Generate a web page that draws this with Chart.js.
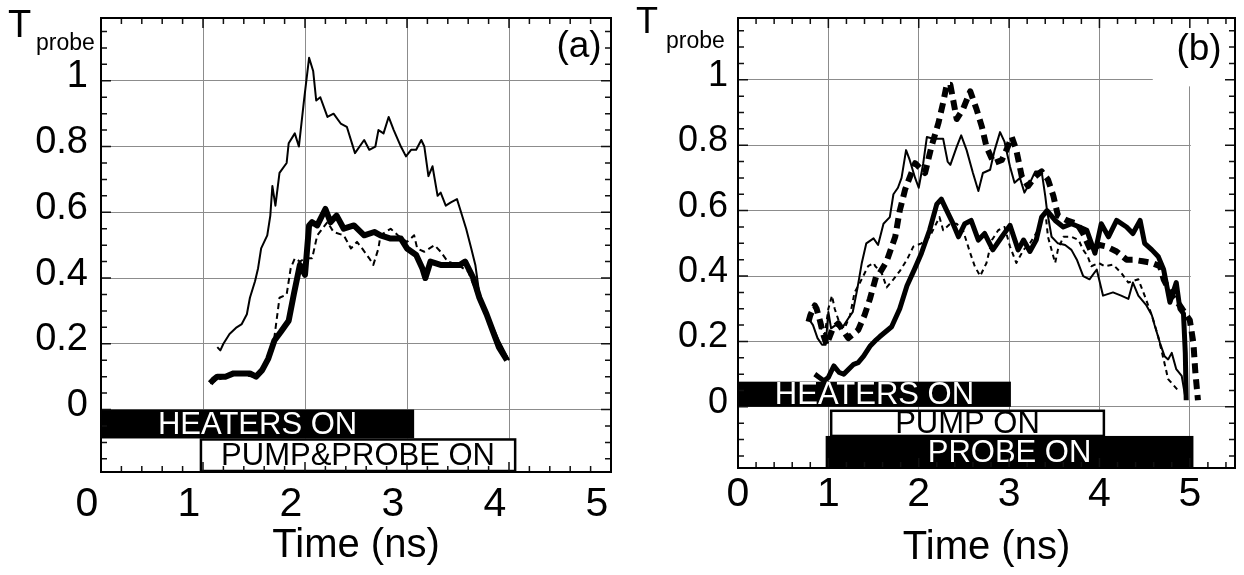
<!DOCTYPE html>
<html>
<head>
<meta charset="utf-8">
<script src="https://cdn.jsdelivr.net/npm/chart.js@4"></script>
<style>
  body { margin: 0; background: #fff; }
  #wrap { position: relative; width: 1244px; height: 575px; }
  canvas { position: absolute; top: 0; }
  #chartA { left: 0; }
  #chartB { left: 622px; }
</style>
</head>
<body>
<div id="wrap">
  <canvas id="chartA" width="622" height="575"></canvas>
  <canvas id="chartB" width="622" height="575"></canvas>
</div>
<script>
const FONT = "'Liberation Sans', Arial, Helvetica, sans-serif";

// shared axes
const xTicks = [0, 1, 2, 3, 4, 5];
const xTickLabels = ['0', '1', '2', '3', '4', '5'];
const yTicks = [0, 0.2, 0.4, 0.6, 0.8, 1];
const yTickLabels = ['0', '0.2', '0.4', '0.6', '0.8', '1'];

// ---- panel (a) : [time ns, T probe]
const aThin = [[1.14,0.19],[1.17,0.18],[1.20,0.20],[1.26,0.23],[1.33,0.25],[1.38,0.26],[1.43,0.29],[1.46,0.34],
  [1.51,0.39],[1.54,0.43],[1.57,0.49],[1.63,0.53],[1.66,0.59],[1.68,0.68],[1.71,0.62],[1.75,0.72],[1.82,0.75],
  [1.84,0.81],[1.90,0.84],[1.94,0.80],[1.99,0.94],[2.04,1.07],[2.08,1.03],[2.11,0.94],[2.15,0.95],[2.22,0.89],
  [2.28,0.90],[2.35,0.87],[2.41,0.86],[2.49,0.78],[2.58,0.82],[2.63,0.79],[2.69,0.80],[2.72,0.85],[2.77,0.84],
  [2.82,0.89],[2.87,0.85],[2.94,0.80],[2.99,0.77],[3.04,0.79],[3.09,0.79],[3.14,0.82],[3.17,0.80],[3.21,0.71],
  [3.25,0.74],[3.30,0.65],[3.33,0.66],[3.38,0.62],[3.43,0.63],[3.49,0.64],[3.53,0.60],[3.58,0.55],[3.63,0.49],
  [3.67,0.44],[3.71,0.35],[3.80,0.28],[3.90,0.21],[4.00,0.15]];
const aDashed = [[1.07,0.08],[1.30,0.11],[1.50,0.10],[1.60,0.13],[1.66,0.18],[1.70,0.22],[1.75,0.34],[1.82,0.35],
  [1.86,0.43],[1.90,0.46],[1.95,0.45],[2.00,0.46],[2.07,0.46],[2.12,0.53],[2.17,0.55],[2.22,0.57],[2.28,0.54],
  [2.38,0.53],[2.45,0.49],[2.51,0.51],[2.56,0.49],[2.63,0.46],[2.67,0.44],[2.72,0.49],[2.74,0.53],[2.84,0.55],
  [2.91,0.53],[3.00,0.51],[3.07,0.53],[3.10,0.49],[3.17,0.48],[3.27,0.50],[3.33,0.48],[3.40,0.45],[3.50,0.44],
  [3.60,0.42],[3.70,0.34],[3.80,0.28],[3.90,0.20],[4.00,0.15]];
const aThick = [[1.07,0.08],[1.10,0.09],[1.14,0.10],[1.22,0.10],[1.30,0.11],[1.38,0.11],[1.46,0.11],[1.52,0.10],
  [1.58,0.12],[1.64,0.155],[1.70,0.21],[1.76,0.235],[1.84,0.27],[1.89,0.35],[1.95,0.44],[2.00,0.41],[2.04,0.56],
  [2.07,0.57],[2.12,0.56],[2.20,0.61],[2.25,0.57],[2.31,0.59],[2.38,0.55],[2.48,0.56],[2.58,0.53],[2.68,0.54],
  [2.74,0.53],[2.84,0.52],[2.94,0.52],[3.00,0.49],[3.09,0.47],[3.15,0.43],[3.18,0.40],[3.23,0.45],[3.33,0.44],
  [3.43,0.44],[3.52,0.44],[3.57,0.45],[3.65,0.40],[3.71,0.34],[3.78,0.29],[3.84,0.24],[3.90,0.19],[3.98,0.15]];
const aBarLabels = ['HEATERS ON', 'PUMP&PROBE ON'];
const aBarFrom = [0, 0.97];
const aBarTo = [3.07, 4.07];
const aBarHigh = [0, -0.088];
const aBarLow = [-0.088, -0.19];

// ---- panel (b)
const bThin = [[0.78,0.27],[0.83,0.25],[0.88,0.21],[0.93,0.19],[0.97,0.19],[1.00,0.29],[1.03,0.24],[1.08,0.25],
  [1.15,0.24],[1.22,0.27],[1.27,0.29],[1.32,0.36],[1.37,0.44],[1.42,0.50],[1.50,0.515],[1.55,0.495],[1.61,0.56],
  [1.68,0.58],[1.72,0.65],[1.77,0.67],[1.81,0.70],[1.86,0.785],[1.90,0.755],[1.96,0.70],[2.00,0.67],[2.05,0.745],
  [2.09,0.825],[2.16,0.82],[2.27,0.82],[2.32,0.75],[2.35,0.74],[2.42,0.795],[2.47,0.83],[2.53,0.785],[2.60,0.715],
  [2.66,0.66],[2.71,0.715],[2.79,0.725],[2.84,0.785],[2.90,0.84],[2.95,0.81],[3.01,0.735],[3.06,0.685],[3.12,0.70],
  [3.17,0.655],[3.23,0.685],[3.29,0.72],[3.36,0.72],[3.40,0.645],[3.42,0.60],[3.47,0.52],[3.54,0.50],[3.62,0.495],
  [3.69,0.48],[3.75,0.45],[3.82,0.40],[3.89,0.39],[3.97,0.42],[4.04,0.34],[4.15,0.35],[4.24,0.34],[4.32,0.33],
  [4.37,0.38],[4.43,0.34],[4.52,0.31],[4.58,0.28],[4.61,0.25],[4.67,0.195],[4.72,0.155],[4.76,0.145],[4.80,0.165],
  [4.85,0.115],[4.91,0.095],[4.95,0.03]];
const bDashed = [[0.90,0.25],[0.96,0.22],[1.00,0.30],[1.04,0.34],[1.07,0.30],[1.13,0.25],[1.18,0.24],[1.24,0.28],
  [1.29,0.35],[1.35,0.38],[1.44,0.43],[1.50,0.44],[1.52,0.43],[1.59,0.41],[1.645,0.365],[1.72,0.39],[1.79,0.415],
  [1.87,0.45],[1.94,0.49],[2.03,0.50],[2.12,0.52],[2.23,0.58],[2.27,0.54],[2.35,0.56],[2.42,0.56],[2.49,0.54],
  [2.57,0.47],[2.62,0.43],[2.68,0.40],[2.75,0.44],[2.81,0.51],[2.88,0.54],[2.95,0.55],[3.01,0.49],[3.08,0.44],
  [3.16,0.48],[3.23,0.50],[3.32,0.54],[3.40,0.60],[3.43,0.52],[3.51,0.44],[3.54,0.48],[3.60,0.52],[3.69,0.52],
  [3.77,0.51],[3.82,0.48],[3.87,0.46],[3.91,0.43],[3.99,0.44],[4.06,0.43],[4.15,0.435],[4.24,0.41],[4.32,0.38],
  [4.43,0.39],[4.50,0.34],[4.58,0.28],[4.65,0.215],[4.71,0.145],[4.76,0.085],[4.87,0.05]];
const bThick = [[0.85,0.10],[0.90,0.09],[0.95,0.08],[1.00,0.09],[1.06,0.125],[1.12,0.105],[1.17,0.10],[1.28,0.13],
  [1.33,0.135],[1.39,0.155],[1.46,0.185],[1.53,0.205],[1.57,0.215],[1.70,0.245],[1.79,0.30],[1.87,0.37],[1.96,0.425],
  [2.03,0.47],[2.12,0.54],[2.20,0.62],[2.25,0.635],[2.31,0.60],[2.38,0.56],[2.44,0.52],[2.51,0.56],[2.58,0.57],
  [2.66,0.51],[2.73,0.53],[2.82,0.48],[2.92,0.52],[3.01,0.555],[3.10,0.48],[3.16,0.51],[3.23,0.475],[3.30,0.51],
  [3.36,0.58],[3.42,0.60],[3.51,0.57],[3.60,0.55],[3.69,0.56],[3.78,0.55],[3.86,0.54],[3.95,0.47],[4.02,0.56],
  [4.10,0.52],[4.19,0.57],[4.30,0.55],[4.37,0.53],[4.45,0.57],[4.50,0.50],[4.58,0.48],[4.65,0.46],[4.71,0.42],
  [4.78,0.32],[4.85,0.38],[4.89,0.30],[4.93,0.285],[4.95,0.165],[4.96,0.02]];
const bThickDashed = [[0.78,0.26],[0.80,0.28],[0.85,0.31],[0.87,0.30],[0.91,0.26],[0.94,0.225],[0.98,0.19],
  [1.05,0.24],[1.11,0.255],[1.17,0.23],[1.22,0.21],[1.33,0.235],[1.40,0.28],[1.46,0.33],[1.53,0.40],[1.57,0.41],
  [1.645,0.445],[1.74,0.52],[1.79,0.60],[1.85,0.665],[1.96,0.745],[2.07,0.715],[2.14,0.795],[2.22,0.87],[2.27,0.93],
  [2.31,0.985],[2.35,0.985],[2.42,0.88],[2.49,0.91],[2.57,0.965],[2.64,0.91],[2.70,0.855],[2.75,0.795],[2.83,0.745],
  [2.92,0.755],[2.97,0.785],[3.03,0.825],[3.08,0.785],[3.14,0.705],[3.21,0.675],[3.29,0.705],[3.36,0.72],[3.43,0.695],
  [3.49,0.645],[3.54,0.585],[3.64,0.57],[3.75,0.56],[3.82,0.53],[3.90,0.48],[4.00,0.495],[4.08,0.49],[4.19,0.475],
  [4.30,0.45],[4.37,0.45],[4.48,0.445],[4.58,0.44],[4.67,0.43],[4.71,0.39],[4.80,0.34],[4.89,0.31],[5.00,0.265],
  [5.04,0.195],[5.06,0.11],[5.09,0.02]];
const bBarLabels = ['HEATERS ON', 'PUMP ON', 'PROBE ON'];
const bBarFrom = [0, 1.02, 0.97];
const bBarTo = [3.02, 4.06, 5.04];
const bBarHigh = [0.077, -0.009, -0.089];
const bBarLow = [0, -0.092, -0.187];

function pts(arr) {
  return arr.map(p => ({ x: p[0], y: p[1] }));
}

// black frame with inward ticks on all four sides
const frameTicks = {
  id: 'frameTicks',
  afterDraw(chart) {
    const { ctx, chartArea: a, scales: { x, y } } = chart;
    ctx.save();
    ctx.strokeStyle = '#111';
    ctx.lineWidth = 1.5;
    ctx.beginPath();
    for (let i = 0; i * 0.2 <= x.max + 1e-6; i++) {
      const px = x.getPixelForValue(i * 0.2);
      const len = i % 5 === 0 ? 10 : 6;
      ctx.moveTo(px, a.bottom); ctx.lineTo(px, a.bottom - len);
      ctx.moveTo(px, a.top); ctx.lineTo(px, a.top + len);
    }
    for (let i = Math.ceil(y.min / 0.05 - 1e-6); i * 0.05 <= y.max + 1e-6; i++) {
      const py = y.getPixelForValue(i * 0.05);
      const len = i % 4 === 0 ? 10 : 6;
      ctx.moveTo(a.left, py); ctx.lineTo(a.left + len, py);
      ctx.moveTo(a.right, py); ctx.lineTo(a.right - len, py);
    }
    ctx.stroke();
    ctx.lineWidth = 2;
    ctx.strokeStyle = '#000';
    ctx.strokeRect(a.left, a.top, a.right - a.left, a.bottom - a.top);
    ctx.restore();
  }
};

// "HEATERS ON" etc, black bars with white text or open boxes
function makeBars(labels, from, to, high, low, dark, gridCut) {
  return {
    id: 'statusBars',
    beforeDatasetsDraw(chart) {
      const { ctx, chartArea: a, scales: { x, y } } = chart;
      ctx.save();
      // the original figure leaves some grid lines unfinished at the right
      if (gridCut) {
        ctx.fillStyle = '#fff';
        const cx = x.getPixelForValue(gridCut[0]) + 1;
        ctx.fillRect(cx, a.top, a.right - cx, y.getPixelForValue(gridCut[1]) - a.top);
        const cx2 = x.getPixelForValue(gridCut[2]);
        ctx.fillRect(cx2, a.top, a.right - cx2, y.getPixelForValue(gridCut[3]) - a.top);
      }
      labels.forEach((label, i) => {
        const l = x.getPixelForValue(from[i]), r = x.getPixelForValue(to[i]);
        const t = y.getPixelForValue(high[i]), b = y.getPixelForValue(low[i]);
        ctx.fillStyle = dark[i] ? '#000' : '#fff';
        ctx.fillRect(l, t, r - l, b - t);
        if (!dark[i]) {
          ctx.strokeStyle = '#000';
          ctx.lineWidth = 2.5;
          ctx.strokeRect(l + 1, t + 1, r - l - 2, b - t - 2);
        }
        ctx.fillStyle = dark[i] ? '#fff' : '#000';
        ctx.font = '31px ' + FONT;
        ctx.textAlign = 'center';
        ctx.textBaseline = 'middle';
        ctx.fillText(label, (l + r) / 2, (t + b) / 2 + 1);
      });
      ctx.restore();
    }
  };
}

// T_probe and panel letter
function makeTexts(items) {
  return {
    id: 'panelTexts',
    afterDraw(chart) {
      const ctx = chart.ctx;
      ctx.save();
      ctx.fillStyle = '#000';
      ctx.textBaseline = 'alphabetic';
      items.forEach(it => {
        ctx.font = it[1] + 'px ' + FONT;
        ctx.textAlign = it[4];
        ctx.fillText(it[0], it[2], it[3]);
      });
      ctx.restore();
    }
  };
}

function makePanel(id, c) {
  return new Chart(document.getElementById(id), {
    type: 'line',
    data: { datasets: c.datasets },
    options: {
      responsive: false,
      animation: false,
      devicePixelRatio: 1,
      layout: { padding: { top: 18, right: c.padRight, left: 0, bottom: 0 } },
      plugins: { legend: { display: false }, tooltip: { enabled: false } },
      elements: { point: { radius: 0 }, line: { tension: 0, fill: false, borderJoinStyle: 'round' } },
      scales: {
        x: {
          type: 'linear', min: 0, max: c.xMax,
          afterBuildTicks: s => { s.ticks = xTicks.map(v => ({ value: v })); },
          afterFit: s => { s.height = c.xHeight; s.paddingLeft = 0; s.paddingRight = 0; },
          grid: { color: '#8c8c8c', lineWidth: 1, drawTicks: false },
          border: { display: false },
          ticks: {
            font: { family: FONT, size: 41 }, color: '#000', padding: c.xPad,
            labelOffset: c.xLabelOffset, maxRotation: 0, autoSkip: false,
            callback: (v, i) => xTickLabels[i]
          },
          title: {
            display: true, text: 'Time (ns)', color: '#000',
            font: { family: FONT, size: 40, lineHeight: 1.2 },
            padding: { top: 0, bottom: c.titlePad }
          }
        },
        y: {
          type: 'linear', min: c.yMin, max: c.yMax,
          afterBuildTicks: s => { s.ticks = yTicks.map(v => ({ value: v })); },
          afterFit: s => { s.width = c.yWidth; s.paddingTop = 0; s.paddingBottom = 0; },
          grid: { color: '#8c8c8c', lineWidth: 1, drawTicks: false },
          border: { display: false },
          ticks: {
            font: { family: FONT, size: c.ySize }, color: '#000', padding: c.yPad,
            labelOffset: -4, callback: (v, i) => yTickLabels[i]
          }
        }
      }
    },
    plugins: [c.bars, frameTicks, c.texts]
  });
}

makePanel('chartA', {
  xMax: 5, yMin: -0.19, yMax: 1.191,
  yWidth: 101, xHeight: 103, padRight: 11,
  xPad: 8, xLabelOffset: -14, yPad: 13, ySize: 38, titlePad: 5,
  datasets: [
    { data: pts(aThick), borderColor: '#000', borderWidth: 6, order: 1 },
    { data: pts(aDashed), borderColor: '#000', borderWidth: 2, borderDash: [6, 4], order: 2 },
    { data: pts(aThin), borderColor: '#000', borderWidth: 2, order: 3 }
  ],
  bars: makeBars(aBarLabels, aBarFrom, aBarTo, aBarHigh, aBarLow, [true, false], null),
  texts: makeTexts([['T', 38, 8, 37, 'left'], ['probe', 23, 36, 50, 'left'], ['(a)', 37, 579, 57, 'center']])
});

makePanel('chartB', {
  xMax: 5.5, yMin: -0.187, yMax: 1.189,
  yWidth: 116, xHeight: 107, padRight: 9,
  xPad: 2, xLabelOffset: 0, yPad: 10, ySize: 36, titlePad: 3,
  datasets: [
    { data: pts(bThick), borderColor: '#000', borderWidth: 5, order: 1 },
    { data: pts(bThickDashed), borderColor: '#000', borderWidth: 6, borderDash: [10, 6], order: 2 },
    { data: pts(bDashed), borderColor: '#000', borderWidth: 2, borderDash: [5, 4], order: 3 },
    { data: pts(bThin), borderColor: '#000', borderWidth: 2, order: 4 }
  ],
  bars: makeBars(bBarLabels, bBarFrom, bBarTo, bBarHigh, bBarLow, [true, false, true], [5, 0.01, 4.59, 0.98]),
  texts: makeTexts([['T', 36, 14, 33, 'left'], ['probe', 23, 44, 48, 'left'], ['(b)', 37, 577, 60, 'center']])
});
</script>
</body>
</html>
